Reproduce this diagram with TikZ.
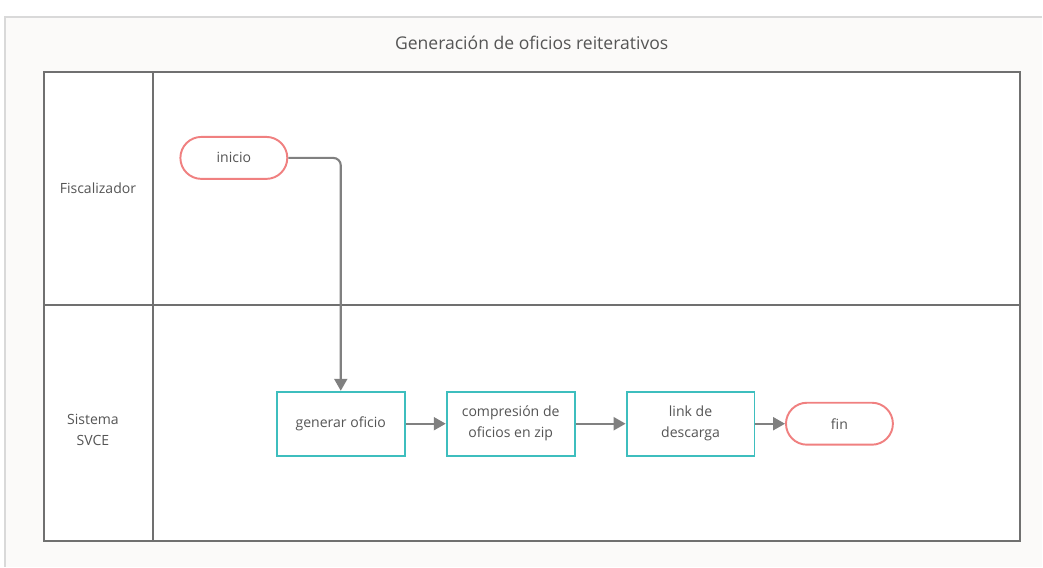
\documentclass[tikz,border=0pt]{standalone}
\usepackage{fontspec}
\setmainfont{Open Sans}
\usepackage{tikz}
\usetikzlibrary{arrows.meta, positioning}
\definecolor{laneline}{RGB}{112, 112, 112}
\definecolor{taskline}{RGB}{62, 190, 190}
\definecolor{eventline}{RGB}{240, 128, 128}
\definecolor{flowline}{RGB}{128, 128, 128}
\definecolor{textgray}{RGB}{85, 85, 85}
\definecolor{panel}{RGB}{251, 250, 249}

\begin{document}
\begin{tikzpicture}[x=0.02cm, y=-0.02cm,
    every node/.style={text=textgray, font=\fontsize{8}{12}\selectfont},
    task/.style={draw=taskline, line width=1.1pt, fill=white, minimum width=2.56cm, minimum height=1.28cm, align=center, inner sep=2pt},
    event/.style={draw=eventline, line width=1.1pt, fill=white, rounded corners=0.42cm, minimum width=2.14cm, minimum height=0.84cm},
    flow/.style={draw=flowline, line width=1.2pt, -{Triangle[length=2.4mm, width=2.6mm]}}]
          % fondo
          \fill[white] (0,0) rectangle (1043,567);
          \fill[panel] (5,17) rectangle (1043,567);
          \draw[black!15, line width=0.8pt] (5,567) -- (5,17) -- (1043,17);
          \useasboundingbox (0,0) rectangle (1043,567);
          \node[font=\normalsize] (titulo) at (532,43) {Generación de oficios reiterativos};
          % pool y carriles
          \draw[laneline, fill=white, line width=1pt] (44,72) rectangle (1021,541);
          \draw[laneline, line width=1pt] (153,72) -- (153,541);
          \draw[laneline, line width=1pt] (44,305) -- (1021,305);
          \node (fiscalizador) at (98,188) {Fiscalizador};
          \node[align=center] (sistema) at (93,430) {Sistema\\SVCE};
          % tareas
          \node[event] (inicio) at (234,158) {inicio};
          \node[task] (generar) at (341,424) {generar oficio};
          \node[task] (compresion) at (511,424) {compresión de\\oficios en zip};
          \node[task] (link) at (691,424) {link de\\descarga};
          \node[event] (fin) at (840,424) {fin};
          % flujo
          \draw[flow, rounded corners=0.15cm] (inicio.east) -| (generar.north);
          \draw[flow] (generar) -- (compresion);
          \draw[flow] (compresion) -- (link);
          \draw[flow] (link) -- (fin);
        \end{tikzpicture}
\end{document}
